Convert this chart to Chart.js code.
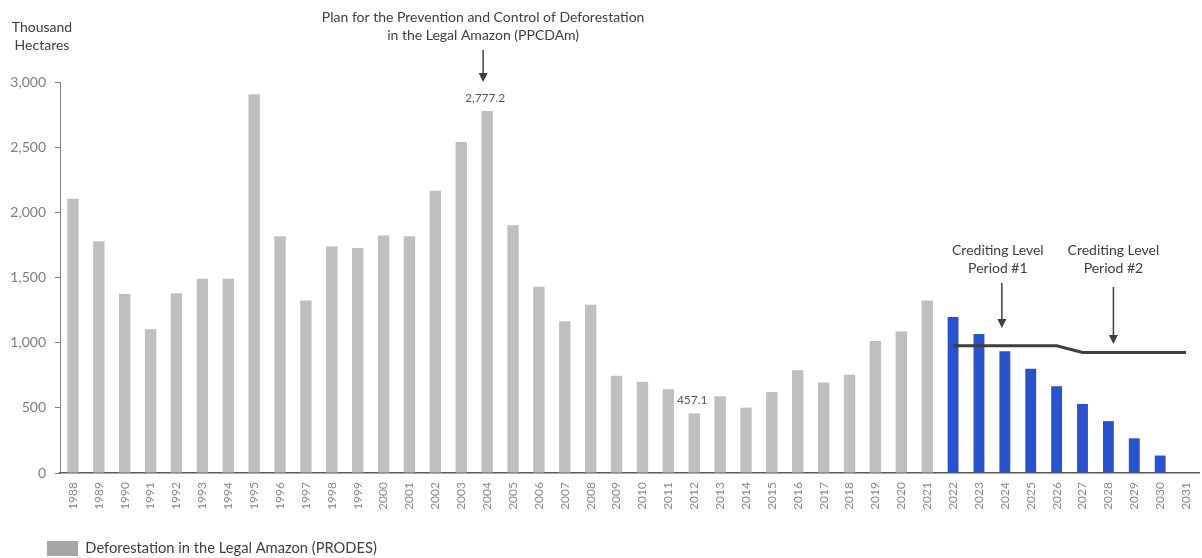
<!DOCTYPE html>
<html>
<head>
<meta charset="utf-8">
<script src="https://cdn.jsdelivr.net/npm/chart.js@4/dist/chart.umd.min.js"></script>
<style>
  html, body { margin: 0; padding: 0; background: #ffffff; }
  #wrap { width: 1202px; height: 558px; position: relative; }
</style>
</head>
<body>
<div id="wrap"><canvas id="c" width="1202" height="558"></canvas></div>
<script>
const years = ['1988','1989','1990','1991','1992','1993','1994','1995','1996','1997','1998','1999','2000','2001','2002','2003','2004','2005','2006','2007','2008','2009','2010','2011','2012','2013','2014','2015','2016','2017','2018','2019','2020','2021','2022','2023','2024','2025','2026','2027','2028','2029','2030','2031'];
// Historical deforestation (PRODES), thousand hectares
const prodes = [2105,1778,1373,1103,1379,1490,1490,2906,1816,1323,1738,1726,1823,1817,2165,2540,2777.2,1901,1429,1165,1291,746,700,642,457.1,589,501,621,789,695,754,1013,1085,1324,null,null,null,null,null,null,null,null,null,null];
// Projected deforestation 2022-2030
const projected = [null,null,null,null,null,null,null,null,null,null,null,null,null,null,null,null,null,null,null,null,null,null,null,null,null,null,null,null,null,null,null,null,null,null,1197,1066,935,800,665,530,398,266,134,null];
// Crediting level line
const creditingLevel = [null,null,null,null,null,null,null,null,null,null,null,null,null,null,null,null,null,null,null,null,null,null,null,null,null,null,null,null,null,null,null,null,null,null,976,976,976,976,976,925,925,925,925,925];
const yTicks = [0, 500, 1000, 1500, 2000, 2500, 3000];
const labelledYears = ['2004', '2012'];

const FONT = 'Lato, "Open Sans", sans-serif';

function arrow(ctx, x, y1, y2) {
  ctx.beginPath();
  ctx.moveTo(x, y1);
  ctx.lineTo(x, y2 - 8);
  ctx.stroke();
  ctx.beginPath();
  ctx.moveTo(x - 4.5, y2 - 9);
  ctx.lineTo(x + 4.5, y2 - 9);
  ctx.lineTo(x, y2);
  ctx.closePath();
  ctx.fill();
}

const notes = {
  id: 'notes',
  afterLayout(chart) {
    const lg = chart.legend;
    if (lg) { lg.left += 37; lg.right += 37; }
  },
  afterDatasetsDraw(chart) {
    const { ctx } = chart;
    const xs = chart.scales.x;
    ctx.save();
    ctx.fillStyle = '#404040';
    ctx.strokeStyle = '#404040';
    ctx.lineWidth = 1.5;
    ctx.textAlign = 'center';
    ctx.textBaseline = 'middle';
    ctx.font = '14px ' + FONT;
    // axis title
    ctx.fillText('Thousand', 42, 27);
    ctx.fillText('Hectares', 42, 45);
    // PPCDAm
    const xp = xs.getPixelForValue(years.indexOf('2004')) - 4;
    ctx.fillText('Plan for the Prevention and Control of Deforestation', xp, 17);
    ctx.fillText('in the Legal Amazon (PPCDAm)', xp, 35);
    arrow(ctx, xp, 50, 82);
    // Crediting level period 1
    const x1 = xs.getPixelForValue(years.indexOf('2024')) - 3;
    ctx.fillText('Crediting Level', x1 - 4, 250);
    ctx.fillText('Period #1', x1 - 4, 268);
    arrow(ctx, x1, 283, 328);
    // Crediting level period 2
    const x2 = xs.getPixelForValue(years.indexOf('2028')) + 5;
    ctx.fillText('Crediting Level', x2, 250);
    ctx.fillText('Period #2', x2, 268);
    arrow(ctx, x2, 287, 344);
    // data labels
    const meta = chart.getDatasetMeta(0);
    ctx.fillStyle = '#595959';
    ctx.font = '12px ' + FONT;
    labelledYears.forEach(yr => {
      const i = years.indexOf(yr);
      const el = meta.data[i];
      const v = prodes[i];
      ctx.fillText(v.toLocaleString('en-US', { minimumFractionDigits: 1, maximumFractionDigits: 1 }), el.x - 2, el.y - 13);
    });
    ctx.restore();
  }
};

new Chart(document.getElementById('c'), {
  data: {
    labels: years,
    datasets: [
      {
        type: 'bar',
        label: 'Deforestation in the Legal Amazon (PRODES)',
        data: prodes,
        backgroundColor: '#bfbfbf',
        grouped: false,
        barPercentage: 0.44,
        categoryPercentage: 1,
        order: 2
      },
      {
        type: 'bar',
        label: 'Projected',
        data: projected,
        backgroundColor: '#2a52cc',
        grouped: false,
        barPercentage: 0.42,
        categoryPercentage: 1,
        order: 2
      },
      {
        type: 'line',
        label: 'Crediting Level',
        data: creditingLevel,
        borderColor: '#3f3f3f',
        borderWidth: 3,
        pointRadius: 0,
        tension: 0,
        spanGaps: false,
        order: 1
      }
    ]
  },
  options: {
    responsive: false,
    animation: false,
    devicePixelRatio: 1,
    layout: { padding: { left: 0, right: 3, top: 82, bottom: -8 } },
    plugins: {
      tooltip: { enabled: false },
      legend: {
        position: 'bottom',
        align: 'start',
        labels: {
          boxWidth: 31,
          boxHeight: 15,
          padding: 10,
          color: '#404040',
          font: { family: FONT, size: 14.7 },
          generateLabels(chart) {
            const ds = chart.data.datasets[0];
            return [{ text: ds.label, fillStyle: '#a6a6a6', strokeStyle: '#a6a6a6', lineWidth: 0, hidden: false, datasetIndex: 0, fontColor: '#404040' }];
          }
        }
      }
    },
    scales: {
      x: {
        grid: { display: false, drawTicks: false },
        border: { display: true, color: '#595959', width: 1.5 },
        ticks: {
          autoSkip: false,
          maxRotation: 90,
          minRotation: 90,
          padding: 9,
          color: '#8a8a8a',
          font: { family: FONT, size: 12 }
        },
        afterFit(scale) { scale.height = 58; scale.paddingLeft = 0; scale.paddingRight = 0; }
      },
      y: {
        min: 0,
        max: 3000,
        afterBuildTicks(scale) { scale.ticks = yTicks.map(v => ({ value: v })); },
        grid: { display: true, drawOnChartArea: false, drawTicks: true, tickLength: 5, color: '#808080' },
        border: { display: true, color: '#808080' },
        ticks: {
          padding: 9,
          color: '#7f7f7f',
          font: { family: FONT, size: 14 },
          callback: v => Number(v).toLocaleString('en-US')
        },
        afterFit(scale) { scale.width = 60; }
      }
    }
  },
  plugins: [notes]
});
</script>
</body>
</html>
